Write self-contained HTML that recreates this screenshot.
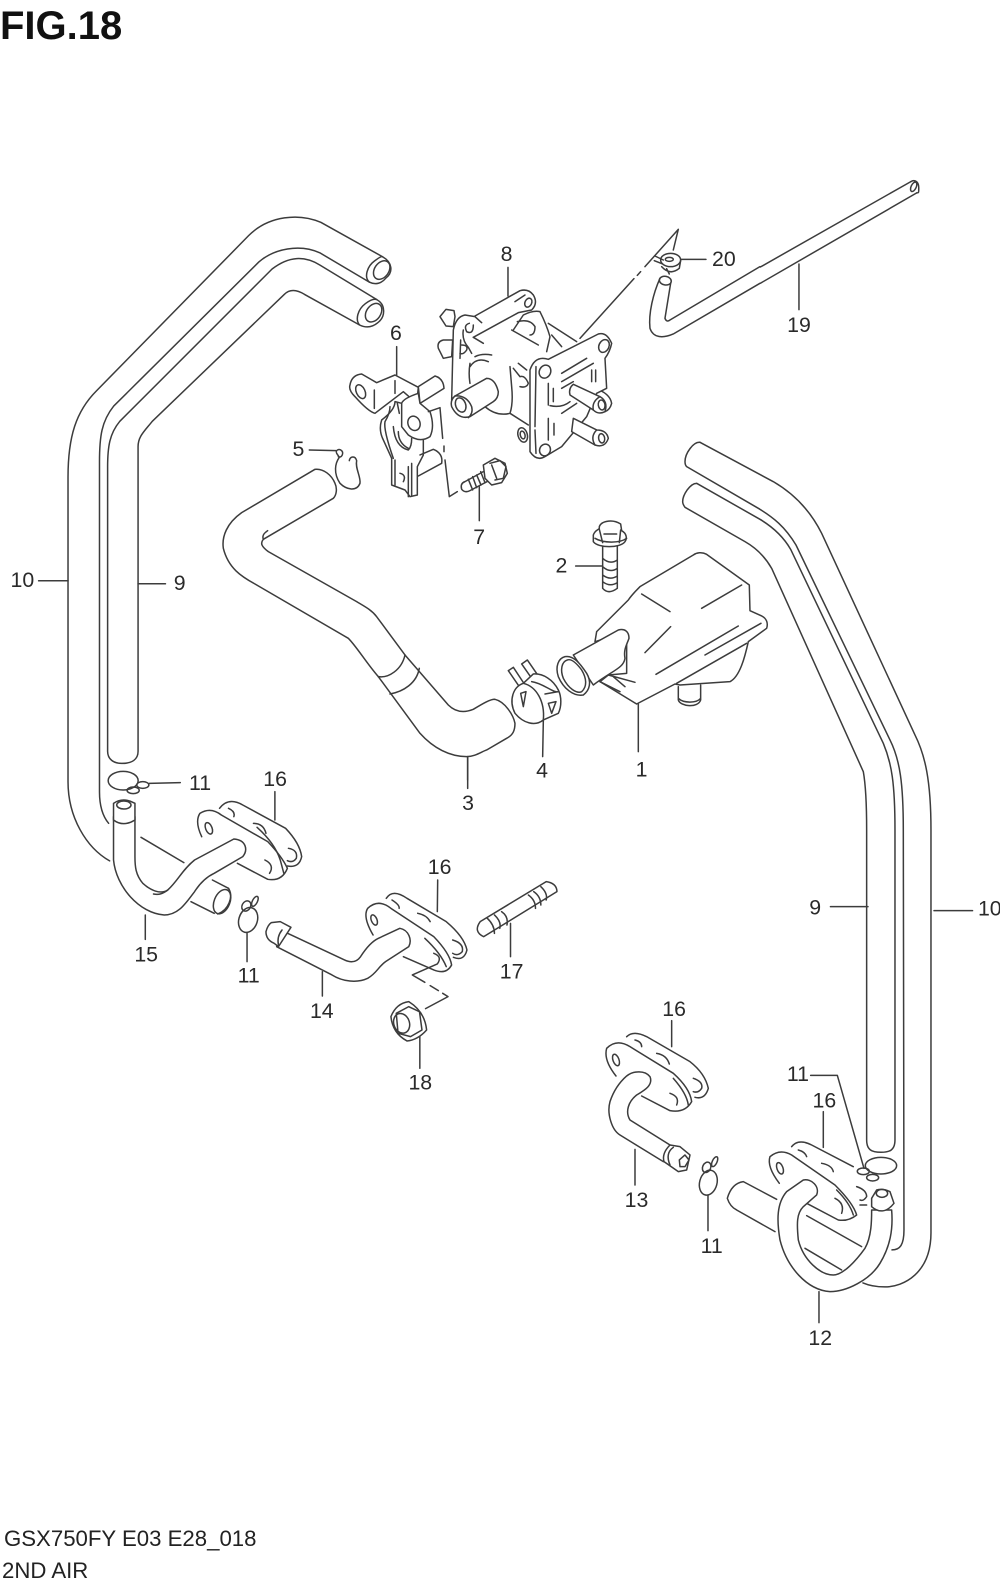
<!DOCTYPE html>
<html><head><meta charset="utf-8"><style>
html,body{margin:0;padding:0;background:#fff;width:1000px;height:1589px;overflow:hidden}
svg{display:block}
path,ellipse,line,circle{fill:none;stroke:#3c3c3c;stroke-width:1.5;stroke-linecap:round;stroke-linejoin:round;vector-effect:non-scaling-stroke}
.w{fill:#fff}
.t{font-family:"Liberation Sans",sans-serif;font-size:21px;fill:#2a2a2a;text-anchor:middle}
</style></head><body>
<svg width="1000" height="1589" viewBox="0 0 1000 1589" xmlns="http://www.w3.org/2000/svg">
<text x="0" y="39" style="font-family:'Liberation Sans',sans-serif;font-size:40px;font-weight:bold;fill:#111">FIG.18</text>
<text x="4" y="1546" style="font-family:'Liberation Sans',sans-serif;font-size:22.2px;fill:#222">GSX750FY E03 E28_018</text>
<text x="2" y="1578" style="font-family:'Liberation Sans',sans-serif;font-size:22.2px;fill:#222">2ND AIR</text>

<!-- left hoses and hose 19, display coords -->
<g transform="scale(1.0152)">
<path d="M377 253 L316 219 C295 210 265 212 245 232 L95 385 C75 405 67 430 67 470 L67 770 C67 805 85 835 108 848"/>
<path d="M364 278 L315 249 C295 240 270 245 255 258 L112 400 C100 415 98 430 98 455 L98 780 C98 795 102 805 107 811"/>
<path d="M371 295 L315 261 C300 252 285 252 268 265 L118 415 C108 427 106 440 106 460 L106 740 C106 748 112 752 120 752 C130 752 136 748 136 740 L136 440 C136 430 142 425 150 415 L280 290 C285 285 292 285 300 290 L354 320"/>
<path d="M377 253 C386 258 388 268 380 274 C376 279 370 281 364 278 C358 273 362 262 369 257 C373 254 376 252 377 253"/>
<ellipse cx="376" cy="266" rx="7" ry="10" transform="rotate(35 376 266)"/>
<path d="M371 295 C380 300 380 312 372 318 C366 323 360 323 354 320 C350 315 352 305 360 299 C364 296 368 294 371 295"/>
<ellipse cx="368" cy="308" rx="7" ry="10" transform="rotate(35 368 308)"/>
<path d="M749 263 L897 179 M749 279 L903 190"/>
<path d="M897 179 C902 176 905 180 905 185 C905 190 905 190 903 190"/>
<ellipse cx="900" cy="184" rx="2.5" ry="5" transform="rotate(25 900 184)"/>
</g>

<!-- right hoses -->
<g transform="translate(670,430) scale(.3333)">
<path d="M90 37 L310 155 C370 190 420 240 455 310 L735 915 C765 975 783 1050 783 1200 L783 2409 C783 2530 700 2571 645 2571 C620 2571 600 2568 579 2559"/>
<path d="M90 37 C70 35 45 70 45 95 C45 105 48 108 50 110 L265 235 C310 262 345 290 378 345 L660 930 C690 990 700 1060 700 1200 L702 2400 C702 2445 690 2460 666 2460"/>
<path d="M80 160 L270 268 C310 292 340 320 362 358 L640 940 C665 1000 675 1060 675 1200 L675 2130 C675 2160 660 2167 633 2167 C605 2167 590 2160 590 2130 L590 1200 C590 1120 588 1070 580 1025 L305 415 C285 380 260 355 225 335 L45 232 C42 228 38 222 38 215 C38 195 60 160 80 160"/>
</g>

<!-- zoom 1 group: 19 tail, 20, bolt 7 -->
<g transform="translate(320,170) scale(.3333)">
<path d="M1020 325 C1000 370 985 430 990 475 C1000 505 1030 505 1060 492 L1320 340"/>
<path d="M1052 340 L1035 445 Q1040 458 1050 450 L1320 290"/>
<ellipse cx="1036" cy="332" rx="18" ry="13" transform="rotate(10 1036 332)"/>
<path d="M1075 178 L975 290 M962 305 L952 316 M942 326 L780 505 M1075 178 L1060 240"/>
<ellipse class="w" cx="1052" cy="270" rx="30" ry="20"/>
<ellipse cx="1048" cy="268" rx="12" ry="6"/>
<path d="M1005 258 L1030 270 M1003 272 L1028 282 M1025 290 Q1050 318 1078 295 L1082 272 M1040 296 L1048 312"/>
<!-- 7 bolt -->
<path d="M490 905 L435 935 Q420 940 425 958 Q435 970 450 962 L520 925"/>
<path d="M445 928 L458 960 M458 920 L470 953 M470 915 L483 945 M482 905 L495 938"/>
<path class="w" d="M490 885 L525 865 L555 880 L562 910 L545 938 L515 945 L495 925 Z"/>
<path d="M510 880 L540 872 L558 890 L550 925 L525 930 M515 885 L530 925"/>
<path d="M564 292 L564 378 M230 530 L230 615 M478 950 L478 1052 M1082 268 L1158 268"/>
</g>

<!-- valve 8 -->
<g transform="translate(430,260) scale(.3333)">
<path d="M30 170 L48 148 L72 152 L75 170 L70 200 L48 198 Z M25 265 Q20 245 40 240 L68 240 L65 290 L40 295 Z"/>
<path d="M135 168 L270 92 Q295 85 310 105 Q325 130 305 150 L265 158 L130 232 M255 125 L285 105"/>
<ellipse cx="295" cy="128" rx="10" ry="14" transform="rotate(25 295 128)"/>
<path d="M70 210 Q78 170 105 165 L135 170 L155 188 M70 210 L65 420 M100 210 Q95 240 115 262 L125 280 M92 240 L90 295 M118 190 Q100 195 110 215 Q130 225 130 195 M130 232 L160 250 M95 255 Q115 255 110 270 Q100 285 90 280"/>
<path d="M120 310 Q115 340 120 370 M135 290 Q155 280 185 285 M120 320 Q140 290 175 305"/>
<path d="M250 210 Q270 180 280 165 Q310 150 330 155 Q350 195 360 230 L350 275 M245 210 L325 255 M262 185 Q300 175 315 200 Q315 225 300 225 M355 190 L440 245 M365 225 L395 260"/>
<path d="M265 310 L290 330 M250 325 L270 350 M270 350 Q285 345 295 370 Q290 385 270 380"/>
<path d="M165 440 Q200 470 240 460 Q250 430 245 380 L240 320 M240 460 L295 495"/>
<path class="w" d="M75 408 L170 355 Q195 355 205 395 Q205 415 190 425 L120 470 Q85 480 65 440 Q60 420 75 408 Z"/>
<path d="M75 408 Q110 405 125 440 Q130 460 115 473"/>
<ellipse cx="92" cy="435" rx="15" ry="22" transform="rotate(-20 92 435)"/>
<ellipse cx="278" cy="525" rx="14" ry="22" transform="rotate(-15 278 525)"/>
<ellipse cx="278" cy="525" rx="7" ry="12" transform="rotate(-15 278 525)"/>
<path d="M495 385 Q540 400 545 430 Q540 450 525 455"/>
<path class="w" d="M300 330 Q315 285 355 298 L505 222 Q530 215 545 250 Q540 275 525 295 L530 385 L500 400 L470 470 L395 560 L345 590 Q320 605 300 575 Z"/>
<path d="M318 320 L315 500 M315 510 L318 580"/>
<ellipse cx="345" cy="335" rx="17" ry="20" transform="rotate(25 345 335)"/>
<ellipse cx="522" cy="258" rx="15" ry="20" transform="rotate(25 522 258)"/>
<ellipse cx="345" cy="570" rx="16" ry="18" transform="rotate(25 345 570)"/>
<path d="M395 340 L470 295 M395 365 L490 310 M485 330 L485 365 M497 330 L497 365 M355 370 L355 435 M370 385 L370 425 M355 475 L355 540 M372 490 L372 525 M395 385 L430 365 M395 460 L440 430 M360 437 Q395 445 420 425"/>
<path class="w" d="M430 373 L510 410 Q535 425 525 455 Q505 465 490 450 L420 405 Q415 385 430 373 Z"/>
<path d="M510 410 Q485 425 490 450"/>
<ellipse cx="515" cy="435" rx="10" ry="15" transform="rotate(-10 515 435)"/>
<path class="w" d="M430 475 L500 510 Q530 510 535 535 Q525 565 495 555 L425 515 Z"/>
<path d="M500 510 Q480 530 495 555"/>
<ellipse cx="515" cy="535" rx="9" ry="14" transform="rotate(-10 515 535)"/>
</g>

<!-- bracket 6 -->
<g transform="translate(340,360) scale(.3333)">
<path class="w" d="M30 75 Q35 45 65 42 L110 68 L165 45 L235 82 L230 130 L190 95 L105 160 Q85 155 45 110 Q25 90 30 75 Z"/>
<ellipse cx="62" cy="95" rx="13" ry="22" transform="rotate(-25 62 95)"/>
<path d="M103 90 L103 145 M165 62 L165 100"/>
<path class="w" d="M235 80 L285 48 Q310 55 312 85 L240 130 Z"/>
<path class="w" d="M165 125 Q165 150 125 180 Q115 210 130 240 L155 295 L155 375 L195 390 L210 410 L232 405 L232 320 L250 285 L250 230 L185 130 Z"/>
<path d="M150 140 Q150 160 135 185 Q130 210 160 295 M172 130 L178 160 M165 300 L165 375 M205 320 L205 410 M215 310 L215 405 M180 340 Q200 345 190 365 M160 200 Q165 260 205 270 Q215 260 215 235 M175 215 Q175 250 205 265"/>
<path class="w" d="M185 200 L185 130 Q190 115 235 100 L240 130 L270 155 Q285 200 270 230 Q240 250 205 225 Z"/>
<ellipse cx="222" cy="190" rx="18" ry="22" transform="rotate(-20 222 190)"/>
<path d="M240 285 L280 268 Q310 280 305 310 L235 348"/>
<path d="M265 155 L300 143 L308 235 M312 258 L312 275 M315 300 L328 410 L352 395"/>
</g>

<!-- zoom 5 hose 3 -->
<g transform="translate(200,440) scale(.3333)">
<path d="M345 88 L125 218 C80 250 65 290 70 325 C85 385 125 410 165 432 L445 595 C470 620 500 670 535 710 L660 880 C700 925 750 950 800 950 C825 950 845 935 860 930 L920 895 C940 885 945 870 945 850 C940 825 915 785 885 778 C870 778 850 790 820 808 C790 820 765 815 745 795 L615 645 L530 530 C515 510 495 500 470 485 L205 335 C185 320 180 310 190 298 L400 175 C410 165 412 145 405 130 C395 105 370 85 345 88"/>
<path d="M190 298 C185 285 195 278 203 272"/>
<path d="M535 710 C565 715 605 690 615 645 M570 762 C610 755 650 730 658 685"/>
<path d="M415 50 C425 55 432 40 425 32 C418 25 405 30 410 40 L418 52 C405 70 400 100 420 130 C440 150 470 155 480 130 C483 110 465 85 470 62 C465 45 450 50 448 62"/>
<path d="M328 30 L408 32 M803 950 L803 1020"/>
</g>

<!-- zoom 4 part 1, 2, 4 -->
<g transform="translate(480,510) scale(.3333)">
<path class="w" d="M360 515 L470 582 L585 522 L600 525 L750 515 C780 500 795 440 805 395 L860 355 C865 340 860 325 845 318 L810 302 L808 225 L680 133 C665 125 650 128 640 135 L480 230 C465 245 455 255 445 270 L350 365 L345 395 L440 365 L440 490 L385 495 Z"/>
<path d="M485 252 L570 305 M785 225 L665 295 M572 350 L495 428 M775 348 L528 493 M843 340 L675 435 M385 495 L465 517 M400 500 L435 530 M360 515 L420 545"/>
<path d="M800 400 L590 520"/>
<path d="M595 530 L595 570 C600 590 655 595 662 570 L662 525 M595 565 C610 580 650 580 662 565"/>
<path class="w" d="M280 435 L415 360 C435 355 447 365 447 385 C440 405 430 420 435 445 C430 475 400 480 340 525 Z"/>
<path class="w" d="M255 440 C235 445 225 470 235 500 C250 535 280 560 310 555 C330 540 335 515 320 490 C300 460 280 435 255 440 Z"/>
<path d="M262 450 C245 455 240 480 250 505 C265 535 290 552 305 545 C322 530 320 505 305 480 C290 460 275 445 262 450"/>
<path d="M85 482 L100 472 L135 525 L118 530 Z M125 462 L142 450 L175 498 L155 505 Z"/>
<path class="w" d="M130 520 C100 530 85 570 105 610 C130 640 165 650 190 630 L235 610 C245 590 245 560 235 540 C220 510 190 490 160 492 Z"/>
<path d="M130 520 C170 530 195 575 190 630 M155 515 C190 520 220 550 235 545 L195 552 M122 550 L138 545 L130 590 Z M205 580 L228 575 L215 610 Z"/>
<path d="M190 632 L188 740 M475 582 L475 725 M287 168 L365 168"/>
<path d="M368 100 L368 235 Q385 255 412 235 L412 100 M368 145 Q390 165 412 150 M368 170 Q390 190 412 175 M368 195 Q390 212 412 198 M368 215 Q390 232 412 218"/>
<path class="w" d="M340 75 C345 60 355 60 358 55 C355 35 395 25 422 42 L425 62 C440 70 442 85 435 95 C420 115 355 115 340 95 Z"/>
<path d="M345 85 C370 100 420 100 440 85 M358 58 L368 98 M422 60 L418 98 M372 72 L410 72"/>
</g>

<!-- zoom 2 flanges & pipes (x 2.8, y 3 crop) -->
<g transform="translate(0,740) scale(.357,.3333)">
<ellipse cx="345" cy="122" rx="42" ry="28"/>
<ellipse cx="400" cy="135" rx="17" ry="10"/>
<ellipse cx="373" cy="151" rx="17" ry="10"/>
<path d="M418 130 L505 128 M770 155 L770 240 M1226 420 L1225 515 M407 525 L407 598 M692 580 L692 665 M903 695 L903 768 M1430 550 L1430 650 M1176 890 L1176 985 M1310 50 L1310 145"/>
<path d="M615 205 Q640 170 680 195 L800 265 Q840 310 845 350 Q838 385 805 378"/>
<path d="M640 205 Q660 215 655 230 M710 250 Q738 250 745 280 M808 325 Q835 330 830 355 Q820 370 805 362"/>
<path d="M395 292 L515 368 M595 420 L640 445 M535 485 L600 520"/>
<ellipse cx="622" cy="485" rx="22" ry="38" transform="rotate(20 622 485)"/>
<path d="M640 445 C655 470 640 510 610 522"/>
<path class="w" d="M565 305 Q540 260 560 220 Q590 200 620 225 L750 305 Q790 350 805 385 Q790 425 750 418 L670 370 L600 320 Z" style="stroke:none"/>
<path d="M565 290 Q545 245 560 220 Q590 200 620 225 L750 305 Q790 350 805 385 Q790 425 750 418 L665 370"/>
<path d="M720 262 Q770 310 785 360 L795 400"/>
<path d="M742 360 Q770 375 755 400"/>
<ellipse cx="585" cy="265" rx="9" ry="18" transform="rotate(-20 585 265)"/>
<path class="w" d="M318 230 L318 360 C325 440 390 520 460 525 C500 525 520 490 545 455 C560 430 580 410 600 400 L680 350 C695 330 690 300 655 297 L545 360 C510 390 500 420 470 450 C450 465 420 450 400 430 C380 405 378 380 378 350 L378 230 Z"/>
<path d="M430 462 C445 465 455 462 470 450"/>
<path class="w" d="M318 230 L318 190 Q345 170 378 190 L378 240 Q345 262 318 240 Z"/>
<ellipse cx="347" cy="195" rx="20" ry="12"/>
<ellipse cx="695" cy="540" rx="26" ry="38" transform="rotate(15 695 540)"/>
<ellipse cx="690" cy="498" rx="12" ry="16" transform="rotate(25 690 498)"/>
<ellipse cx="714" cy="484" rx="7" ry="16" transform="rotate(25 714 484)"/>
<path d="M1082 475 Q1100 445 1140 475 L1250 545 Q1300 590 1308 630 Q1300 665 1270 652"/>
<path d="M1098 480 Q1120 495 1118 505 M1170 520 Q1195 525 1205 545 M1268 600 Q1300 610 1295 635 Q1282 650 1268 640"/>
<path d="M1045 585 Q1015 530 1030 505 Q1060 475 1095 505 L1215 590 Q1260 640 1265 675 Q1250 705 1215 690 L1130 650"/>
<path d="M1215 640 Q1240 650 1225 672 L1155 705 L1190 727 M1205 737 L1228 752 M1240 760 L1255 770 L1192 806"/>
<path d="M1190 595 Q1235 640 1250 680"/>
<ellipse cx="1048" cy="540" rx="8" ry="16" transform="rotate(-20 1048 540)"/>
<path class="w" d="M790 572 L965 660 C985 670 1000 665 1010 650 C1025 625 1040 605 1060 595 L1120 565 C1145 570 1155 600 1145 620 L1080 665 C1060 680 1055 700 1030 715 C1000 730 960 725 930 705 L775 620 Z"/>
<path class="w" d="M760 548 L785 545 L815 562 L780 620 L768 610 Q745 600 745 575 Q750 555 760 548 Z"/>
<path d="M790 570 Q775 590 780 615"/>
<path class="w" d="M1095 830 Q1110 790 1145 785 Q1190 815 1195 870 Q1170 900 1140 903 Q1100 880 1095 830 Z"/>
<path d="M1110 820 L1145 800 L1175 815 L1182 870 L1150 890 L1115 880 Z"/>
<ellipse cx="1125" cy="850" rx="22" ry="30" transform="rotate(-15 1125 850)"/>
<path class="w" d="M1345 545 L1530 425 Q1560 430 1560 455 L1355 590 Q1325 575 1345 545 Z"/>
<path d="M1365 535 Q1385 555 1385 580 M1385 525 Q1405 545 1400 565 M1405 515 Q1425 530 1420 555 M1480 465 Q1500 480 1500 505 M1495 455 Q1515 470 1515 495 M1515 440 Q1535 460 1530 480"/>
</g>

<!-- zoom 3 -->
<g transform="translate(590,990) scale(.3333)">
<path d="M110 140 Q130 120 170 140 L300 215 Q345 250 355 295 Q345 330 315 322"/>
<path d="M135 150 Q155 155 155 170 M200 190 Q230 195 238 222 M310 265 Q340 275 335 295 Q325 310 310 305"/>
<path d="M78 258 Q40 210 50 175 Q80 145 120 170 L250 250 Q300 295 305 335 Q285 370 240 362 L155 318"/>
<path d="M250 265 Q290 310 295 345"/>
<ellipse cx="78" cy="210" rx="9" ry="18" transform="rotate(-20 78 210)"/>
<path d="M240 310 Q270 320 260 345"/>
<path class="w" d="M110 258 C130 242 165 240 180 260 C190 285 165 300 140 315 C115 335 105 365 120 390 L240 465 L220 515 L90 435 C65 420 50 370 60 335 C70 305 85 280 110 258 Z"/>
<path class="w" d="M240 465 L270 470 L300 495 L290 540 L265 545 L222 515 Q215 490 240 465 Z"/>
<path d="M250 472 Q225 490 240 525 M268 510 L285 495 L297 510 L285 530 L270 530 Z"/>
<ellipse cx="355" cy="578" rx="26" ry="38" transform="rotate(15 355 578)"/>
<ellipse cx="350" cy="532" rx="12" ry="16" transform="rotate(25 350 532)"/>
<ellipse cx="374" cy="515" rx="7" ry="16" transform="rotate(25 374 515)"/>
<path d="M605 470 Q625 445 665 465 L790 530"/>
<path d="M625 480 Q645 485 650 500 M695 520 Q725 525 730 545 M800 590 Q830 600 830 620 Q820 635 810 630 M810 645 L830 645"/>
<path d="M568 580 Q530 530 540 500 Q570 475 605 495 L735 585 Q790 640 800 675 Q775 695 745 690 L650 640"/>
<path d="M740 600 Q780 640 790 675"/>
<ellipse cx="570" cy="535" rx="9" ry="18" transform="rotate(-20 570 535)"/>
<path d="M735 625 Q765 640 755 670"/>
<path d="M560 628 L460 575 Q425 580 412 625 Q420 650 440 660 L555 725"/>
<path d="M650 677 L815 770 M645 775 L755 840"/>
<path class="w" d="M590 605 L640 570 C665 565 690 590 680 615 L640 650 C620 670 620 700 625 750 C640 810 690 855 730 855 C760 855 800 810 825 775 C845 740 845 690 845 660 L905 660 C910 720 900 770 870 820 C840 870 770 905 720 905 C650 900 590 830 570 750 C560 690 560 640 590 605 Z"/>
<path class="w" d="M845 625 L860 600 Q880 595 900 605 L912 640 Q880 680 845 650 Z"/>
<ellipse cx="876" cy="610" rx="17" ry="12"/>
<ellipse cx="873" cy="527" rx="47" ry="25"/>
<ellipse cx="820" cy="544" rx="18" ry="10"/>
<ellipse cx="848" cy="563" rx="18" ry="10"/>
<path d="M662 256 L742 256 L822 535 M700 365 L700 472 M245 92 L245 170 M135 478 L135 585 M354 615 L354 722 M687 905 L687 998"/>
</g>

<!-- labels in display coords -->
<g transform="scale(1.0152)">
<path d="M38 572 L67 572 M136 575 L163 575 M818 893 L855 893 M920 897 L958 897 M787 260 L787 305"/>
<text class="t" x="22" y="578">10</text>
<text class="t" x="177" y="581">9</text>
<text class="t" x="197" y="778">11</text>
<text class="t" x="271" y="774">16</text>
<text class="t" x="144" y="947">15</text>
<text class="t" x="245" y="968">11</text>
<text class="t" x="317" y="1003">14</text>
<text class="t" x="433" y="861">16</text>
<text class="t" x="504" y="964">17</text>
<text class="t" x="414" y="1073">18</text>
<text class="t" x="461" y="798">3</text>
<text class="t" x="534" y="766">4</text>
<text class="t" x="632" y="765">1</text>
<text class="t" x="553" y="564">2</text>
<text class="t" x="472" y="536">7</text>
<text class="t" x="294" y="449">5</text>
<text class="t" x="390" y="335">6</text>
<text class="t" x="499" y="257">8</text>
<text class="t" x="713" y="262">20</text>
<text class="t" x="787" y="327">19</text>
<text class="t" x="803" y="901">9</text>
<text class="t" x="975" y="902">10</text>
<text class="t" x="664" y="1001">16</text>
<text class="t" x="786" y="1065">11</text>
<text class="t" x="812" y="1091">16</text>
<text class="t" x="701" y="1234">11</text>
<text class="t" x="627" y="1189">13</text>
<text class="t" x="808" y="1325">12</text>
</g>
</svg>
</body></html>
